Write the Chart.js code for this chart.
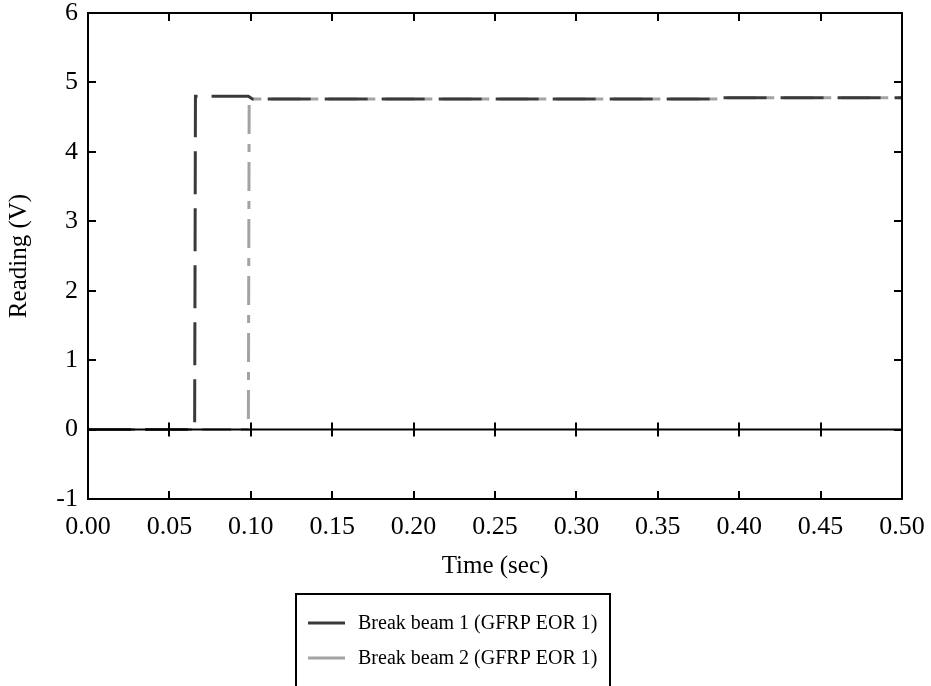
<!DOCTYPE html>
<html>
<head>
<meta charset="utf-8">
<script src="https://cdn.jsdelivr.net/npm/chart.js@4.4.1/dist/chart.umd.min.js"></script>
<style>
  body { margin: 0; background: #fff; }
  canvas { display: block; }
</style>
</head>
<body>
<canvas id="mycanvas" width="931" height="686"></canvas>
<script>
// beam readings
var beam1Time = [0, 0.0655, 0.0660, 0.0985, 0.1010, 0.385, 0.390, 0.5];
var beam1Volt = [0, 0, 4.80, 4.80, 4.76, 4.76, 4.78, 4.78];
var beam2Time = [0, 0.0985, 0.0990, 0.385, 0.390, 0.5];
var beam2Volt = [0, 0, 4.76, 4.76, 4.78, 4.78];

var seriesLabels = ['Break beam 1 (GFRP EOR 1)', 'Break beam 2 (GFRP EOR 1)'];
var xTicks = [0, 0.05, 0.10, 0.15, 0.20, 0.25, 0.30, 0.35, 0.40, 0.45, 0.50];
var yTicks = [-1, 0, 1, 2, 3, 4, 5, 6];

var FONT = "'Liberation Serif', 'Times New Roman', serif";

function toPoints(xs, ys) {
	var pts = [];
	for (var i in xs) {
		pts.push({x: xs[i], y: ys[i]});
	}
	return pts;
}

// frame, zero line and inward ticks
var framePlugin = {
	id: 'frame',
	afterDatasetsDraw: function(chart) {
		var ctx = chart.ctx;
		var a = chart.chartArea;
		var xs = chart.scales.x, ys = chart.scales.y;
		var y0 = ys.getPixelForValue(0);
		var len = 8;
		ctx.save();
		ctx.strokeStyle = '#000';
		ctx.lineWidth = 2;
		ctx.beginPath();
		ctx.moveTo(a.left, y0);
		ctx.lineTo(a.right, y0);
		ctx.stroke();
		ctx.beginPath();
		for (var i = 1; i < xTicks.length - 1; i++) {
			var px = Math.round(xs.getPixelForValue(xTicks[i]));
			ctx.moveTo(px, a.bottom); ctx.lineTo(px, a.bottom - len);
			ctx.moveTo(px, a.top); ctx.lineTo(px, a.top + len);
			ctx.moveTo(px, y0 - 7); ctx.lineTo(px, y0 + 7);
		}
		for (var j = 1; j < yTicks.length - 1; j++) {
			var py = Math.round(ys.getPixelForValue(yTicks[j]));
			ctx.moveTo(a.left, py); ctx.lineTo(a.left + len, py);
			ctx.moveTo(a.right, py); ctx.lineTo(a.right - len, py);
		}
		ctx.stroke();
		ctx.strokeRect(a.left, a.top, a.right - a.left, a.bottom - a.top);
		ctx.restore();
	}
};

// boxed legend below the axis title
var legendPlugin = {
	id: 'boxLegend',
	afterDraw: function(chart) {
		var ctx = chart.ctx;
		ctx.save();
		ctx.strokeStyle = '#000';
		ctx.lineWidth = 2;
		ctx.strokeRect(296, 594, 314, 120);
		ctx.font = '20px ' + FONT;
		ctx.textBaseline = 'middle';
		ctx.fillStyle = '#000';
		chart.data.datasets.forEach(function(ds, i) {
			var y = 623 + i * 35;
			ctx.strokeStyle = ds.borderColor;
			ctx.lineWidth = 3;
			ctx.beginPath();
			ctx.moveTo(308, y);
			ctx.lineTo(345, y);
			ctx.stroke();
			ctx.fillText(ds.label, 358, y + 1);
		});
		ctx.restore();
	}
};

var chartdata = {
	datasets: [
		{
			label: seriesLabels[0],
			data: toPoints(beam1Time, beam1Volt),
			borderColor: '#3a3a3a',
			borderWidth: 3,
			borderDash: [43, 14],
			pointRadius: 0,
			fill: false,
			tension: 0
		},
		{
			label: seriesLabels[1],
			data: toPoints(beam2Time, beam2Volt),
			borderColor: '#a3a3a3',
			borderWidth: 3,
			borderDash: [29, 10, 8, 10],
			pointRadius: 0,
			fill: false,
			tension: 0
		}
	]
};

var ctx = document.getElementById('mycanvas');

var lineGraph = new Chart(ctx, {
	type: 'line',
	data: chartdata,
	plugins: [framePlugin, legendPlugin],
	options: {
		responsive: false,
		animation: false,
		layout: { padding: { left: 0, right: 29, top: 13, bottom: 101 } },
		plugins: {
			legend: { display: false },
			tooltip: { enabled: false }
		},
		scales: {
			x: {
				type: 'linear',
				min: 0,
				max: 0.5,
				afterBuildTicks: function(scale) {
					scale.ticks = xTicks.map(function(v) { return {value: v}; });
				},
				afterFit: function(scale) {
					scale.height = 86;
					scale.paddingLeft = 0;
					scale.paddingRight = 0;
				},
				grid: { display: false, drawTicks: false },
				border: { display: false },
				ticks: {
					padding: 13,
					color: '#000',
					font: { family: FONT, size: 26 },
					maxRotation: 0,
					callback: function(v) { return v.toFixed(2); }
				},
				title: {
					display: true,
					text: 'Time (sec)',
					color: '#000',
					font: { family: FONT, size: 25 }
				}
			},
			y: {
				min: -1,
				max: 6,
				afterBuildTicks: function(scale) {
					scale.ticks = yTicks.map(function(v) { return {value: v}; });
				},
				afterFit: function(scale) {
					scale.width = 88;
					scale.paddingTop = 0;
					scale.paddingBottom = 0;
				},
				grid: { display: false, drawTicks: false },
				border: { display: false },
				ticks: {
					padding: 10,
					color: '#000',
					font: { family: FONT, size: 26 }
				},
				title: {
					display: true,
					text: 'Reading (V)',
					color: '#000',
					font: { family: FONT, size: 25 }
				}
			}
		}
	}
});
</script>
</body>
</html>
